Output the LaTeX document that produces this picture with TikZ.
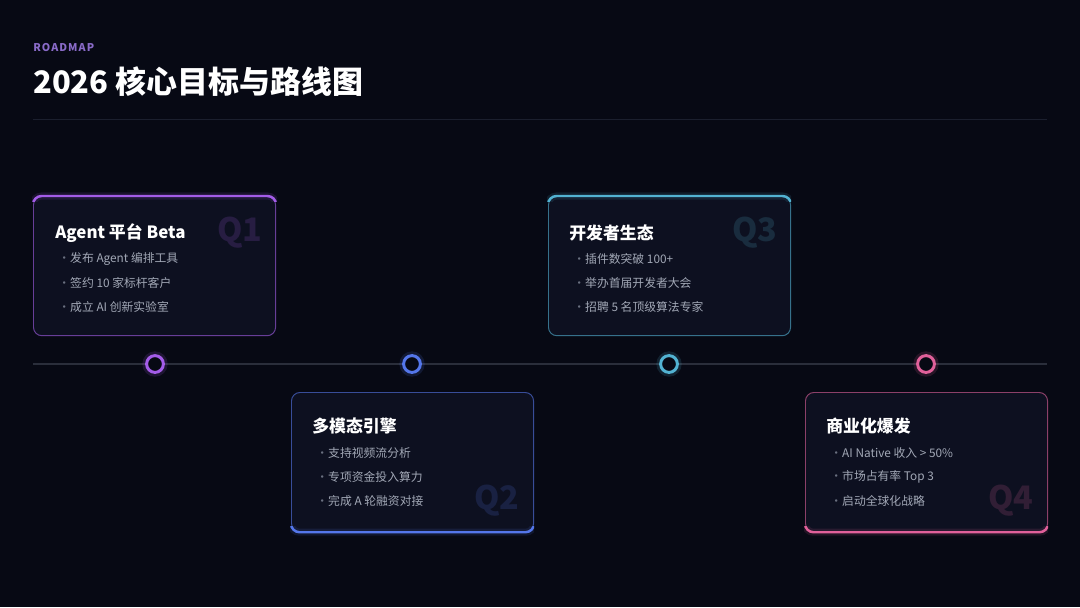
\documentclass[tikz,border=0pt]{standalone}
\usepackage{fontspec}
\setmainfont{Noto Sans CJK SC}
\newfontfamily\trackfont{Noto Sans CJK SC}[LetterSpace=10]
\usetikzlibrary{positioning}
\definecolor{RMBg}{HTML}{070914}
\definecolor{RMCard}{HTML}{0D1020}
\definecolor{RMRule}{HTML}{1B1F2E}
\definecolor{RMTrack}{HTML}{2A2E3B}
\definecolor{RMText}{HTML}{A2A8B6}
\definecolor{RMDot}{HTML}{6A7080}
\definecolor{RMKicker}{HTML}{8A6BC9}
\definecolor{RMPurple}{HTML}{A35CE8}
\definecolor{RMBlue}{HTML}{5476EA}
\definecolor{RMCyan}{HTML}{52B2D2}
\definecolor{RMPink}{HTML}{E0609A}

\begin{document}
\begin{tikzpicture}[x=0.025cm,y=-0.025cm,
    card/.style={draw=#1!60!RMCard,fill=RMCard,line width=0.7pt,rounded corners=6pt,
      minimum width=6.05cm,minimum height=3.48cm,anchor=north west,inner sep=0pt},
    accent/.style={draw=#1,line width=1.7pt,rounded corners=6pt},
    glow/.style={draw=#1,line width=5pt,opacity=.13,rounded corners=6pt},
    qtag/.style={text=#1!17!RMCard,font=\bfseries\fontsize{23}{26}\selectfont,inner sep=0pt},
    cardtitle/.style={anchor=west,text=white,font=\bfseries\fontsize{12}{14}\selectfont,inner sep=0pt},
    item/.style={anchor=west,text=RMText,font=\fontsize{8.4}{10}\selectfont,inner sep=0pt},
    milestone/.style={circle,draw=#1,fill=RMBg,line width=2.1pt,minimum size=0.42cm,inner sep=0pt,
      preaction={draw=#1,line width=6pt,opacity=.15}},
    track/.style={draw=RMTrack,line width=1.5pt},
    rule/.style={draw=RMRule,line width=0.6pt}
  ]
  \fill[RMBg] (0,0) rectangle (1080,607);
  \useasboundingbox (0,0) rectangle (1080,607);

  % header
  \node[anchor=west,inner sep=0pt,text=RMKicker,font=\trackfont\bfseries\fontsize{7.6}{9}\selectfont] (kicker) at (33,48) {ROADMAP};
  \node[anchor=west,inner sep=0pt,text=white,font=\bfseries\fontsize{22}{26}\selectfont] (title) at (33,82) {2026 核心目标与路线图};
  \coordinate (rule-l) at (33,119);
  \coordinate (rule-r) at (1047,119);
  \draw[rule] (rule-l) -- (rule-r);

  % timeline
  \coordinate (track-l) at (33,364);
  \coordinate (track-r) at (1047,364);
  \draw[track] (track-l) -- (track-r);
  \node[milestone=RMPurple] (m1) at (155,364) {};
  \node[milestone=RMBlue] (m2) at (412,364) {};
  \node[milestone=RMCyan] (m3) at (669,364) {};
  \node[milestone=RMPink] (m4) at (926,364) {};

  % Q1
  \node[card=RMPurple] (q1) at (33,196) {};
  \begin{scope}
    \clip (32,185) rectangle (277,201.5);
    \draw[glow=RMPurple] (q1.north west) rectangle (q1.south east);
    \draw[accent=RMPurple] (q1.north west) rectangle (q1.south east);
  \end{scope}
  \node[qtag=RMPurple] (q1tag) at (240,233) {Q1};
  \node[cardtitle] (q1title) at (55,233) {Agent 平台 Beta};
  \node[item] (q1a) at (58,259) {\makebox[8.5pt][l]{\textcolor{RMDot}{·}}发布 Agent 编排工具};
  \node[item] (q1b) at (58,283) {\makebox[8.5pt][l]{\textcolor{RMDot}{·}}签约 10 家标杆客户};
  \node[item] (q1c) at (58,307) {\makebox[8.5pt][l]{\textcolor{RMDot}{·}}成立 AI 创新实验室};

  % Q2
  \node[card=RMBlue] (q2) at (291,392) {};
  \begin{scope}
    \clip (290,526.5) rectangle (534,545);
    \draw[glow=RMBlue] (q2.north west) rectangle (q2.south east);
    \draw[accent=RMBlue] (q2.north west) rectangle (q2.south east);
  \end{scope}
  \node[qtag=RMBlue] (q2tag) at (497,501) {Q2};
  \node[cardtitle] (q2title) at (312,426) {多模态引擎};
  \node[item] (q2a) at (316,453) {\makebox[8.5pt][l]{\textcolor{RMDot}{·}}支持视频流分析};
  \node[item] (q2b) at (316,477) {\makebox[8.5pt][l]{\textcolor{RMDot}{·}}专项资金投入算力};
  \node[item] (q2c) at (316,501) {\makebox[8.5pt][l]{\textcolor{RMDot}{·}}完成 A 轮融资对接};

  % Q3
  \node[card=RMCyan] (q3) at (548,196) {};
  \begin{scope}
    \clip (547,185) rectangle (791,201.5);
    \draw[glow=RMCyan] (q3.north west) rectangle (q3.south east);
    \draw[accent=RMCyan] (q3.north west) rectangle (q3.south east);
  \end{scope}
  \node[qtag=RMCyan] (q3tag) at (755,233) {Q3};
  \node[cardtitle] (q3title) at (569,233) {开发者生态};
  \node[item] (q3a) at (573,259) {\makebox[8.5pt][l]{\textcolor{RMDot}{·}}插件数突破 100+};
  \node[item] (q3b) at (573,283) {\makebox[8.5pt][l]{\textcolor{RMDot}{·}}举办首届开发者大会};
  \node[item] (q3c) at (573,307) {\makebox[8.5pt][l]{\textcolor{RMDot}{·}}招聘 5 名顶级算法专家};

  % Q4
  \node[card=RMPink] (q4) at (805,392) {};
  \begin{scope}
    \clip (804,526.5) rectangle (1048,545);
    \draw[glow=RMPink] (q4.north west) rectangle (q4.south east);
    \draw[accent=RMPink] (q4.north west) rectangle (q4.south east);
  \end{scope}
  \node[qtag=RMPink] (q4tag) at (1011,501) {Q4};
  \node[cardtitle] (q4title) at (826,426) {商业化爆发};
  \node[item] (q4a) at (830,453) {\makebox[8.5pt][l]{\textcolor{RMDot}{·}}AI Native 收入 > 50\%};
  \node[item] (q4b) at (830,477) {\makebox[8.5pt][l]{\textcolor{RMDot}{·}}市场占有率 Top 3};
  \node[item] (q4c) at (830,501) {\makebox[8.5pt][l]{\textcolor{RMDot}{·}}启动全球化战略};
\end{tikzpicture}
\end{document}
